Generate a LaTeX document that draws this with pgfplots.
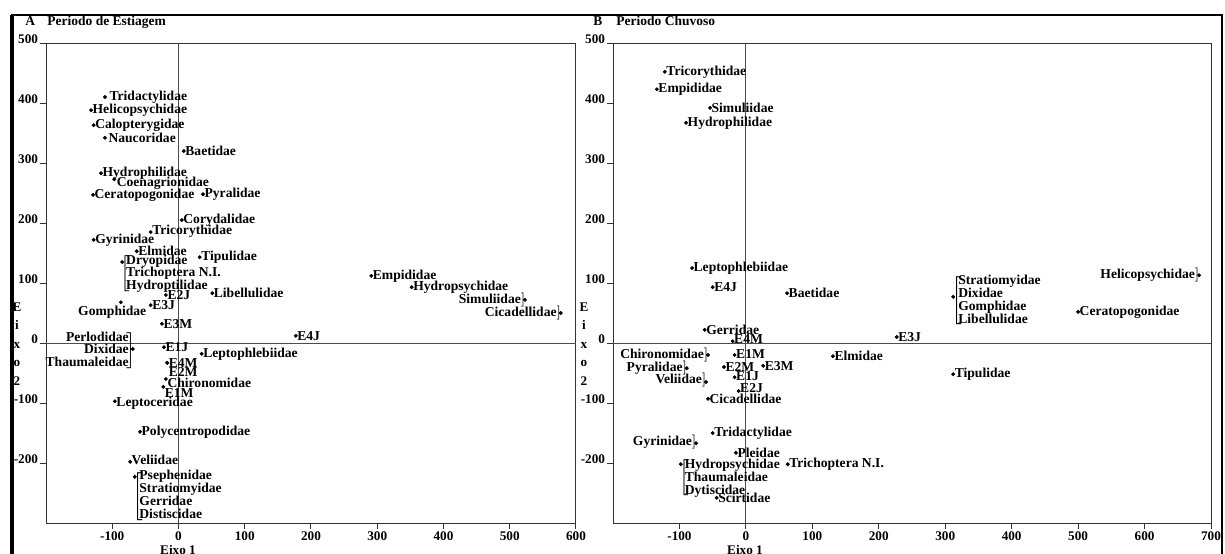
\documentclass[border=0pt]{standalone}
\usepackage{fontspec}
\setmainfont{Liberation Serif}
\usepackage{pgfplots}
\usepackage{pgfplotstable}
\pgfplotsset{compat=1.18}

\newcommand\labfont{\bfseries\fontsize{6.8pt}{5.8pt}\selectfont}
\newcommand\tickfont{\bfseries\fontsize{6.6pt}{7pt}\selectfont}
\protected\def\RB#1{$\left.\mbox{#1}\right]$}
\protected\def\GrpDry{$\left[\kern-2pt\begin{tabular}{@{}l@{}}Dryopidae\\Trichoptera N.I.\\Hydroptilidae\end{tabular}\right.$}
\protected\def\GrpPerl{$\left.\begin{tabular}{@{}r@{}}Perlodidae\\Dixidae\\Thaumaleidae\end{tabular}\kern-1pt\right]$}
\protected\def\GrpPse{$\left[\kern-2pt\begin{tabular}{@{}l@{}}Psephenidae\\Stratiomyidae\\Gerridae\\Distiscidae\end{tabular}\right.$}
\protected\def\GrpHyd{$\left[\kern-2pt\begin{tabular}{@{}l@{}}Hydropsychidae\\Thaumaleidae\\Dytiscidae\end{tabular}\right.$}
\protected\def\GrpStr{$\left[\kern-2pt\begin{tabular}{@{}l@{}}Stratiomyidae\\Dixidae\\Gomphidae\\Libellulidae\end{tabular}\right.$}

\pgfplotsset{
  pca/.style={
    scale only axis, height=240pt, anchor=south west,
    xmin=-200, ymin=-300, ymax=500, clip=false,
    axis line style={black!80, line width=0.5pt},
    tick style={black!80, line width=0.5pt},
    tick align=outside, major tick length=3pt, tick pos=left,
    ytick={-200,-100,...,500},
    yticklabels={-200,-100,0,100,200,300,400,500},
    ticklabel style={font=\tickfont, text=black},
    yticklabel style={anchor=base east, inner sep=0.8pt},
    xticklabel style={anchor=north, inner sep=1pt},
  },
  zl/.style={black!70, line width=0.5pt, no marks},
}

\begin{document}
\begin{tikzpicture}[x=1pt,y=1pt]
% outer frame
\draw[line width=1pt] (6pt,-282pt) -- (6pt,-7.5pt) -- (611pt,-7.5pt) -- (611pt,-282pt);
\draw[line width=1.6pt] (6pt,-282pt) -- (6pt,-7.5pt);

\begin{axis}[pca, at={(23pt,-261.5pt)}, width=265pt, xmax=600,
  xtick={-100,0,...,600}, xticklabels={-100,0,100,200,300,400,500,600}]
\addplot[zl] coordinates {(-200,0) (600,0)};
\addplot[zl] coordinates {(0,-300) (0,500)};
\addplot[only marks, mark=*, mark size=0.75pt, black,
    mark options={fill=black, draw=black},
    point meta=explicit symbolic, nodes near coords,
    visualization depends on={value \thisrow{anc}\as\myanc},
    visualization depends on={\thisrow{dx}\as\mydx},
    visualization depends on={\thisrow{dy}\as\mydy},
    every node near coord/.append style={anchor=\myanc, xshift=\mydx pt,
      yshift=\mydy pt, inner sep=0.6pt, font=\labfont, text=black}]
 table[col sep=comma, x=x, y=y, meta=lab] {
x,y,lab,anc,dx,dy
-111,410,Tridactylidae,west,1.5,0
-132,388,Helicopsychidae,west,0,0
-128,363,Calopterygidae,west,0,0
-111,342,Naucoridae,west,1,0
8,320,Baetidae,west,0,0
-117,283,Hydrophilidae,west,0,0
-97,273,Coenagrionidae,west,0.5,-2
-129,247,Ceratopogonidae,west,0,0
37,248,Pyralidae,west,0,0
5,205,Corydalidae,west,0,0
-42,185,Tricorythidae,west,0,0.5
-128,172,Gyrinidae,west,0,0
-63,153,Elmidae,west,0,0
32,143,Tipulidae,west,0,0
-85,135,\GrpDry,north west,-1.5,4.5
51,83,Libellulidae,west,0,0
-19,80,E2J,west,0,0
-87,68,Gomphidae,east,13.5,-5
-42,63,E3J,west,0,0
-25,32,E3M,west,0,0
-69,-10,\GrpPerl,east,2.5,-1
-22,-7,E1J,west,0,0
35,-18,Leptophlebiidae,west,0,0
-17,-33,E4M,west,0,0
-17,-33,E2M,west,0,-4.5
-19,-60,Chironomidae,west,0,-2
-23,-73,E1M,west,0,-3
-96,-97,Leptoceridae,west,0,-1
-58,-148,Polycentropodidae,west,0,0
-73,-198,Veliidae,west,0,1
-66,-223,\GrpPse,north west,-1.75,4
291,112,Empididae,west,0,0
352,93,Hydropsychidae,west,0,0
523,72,\RB{Simuliidae},east,1,0
577,50,\RB{Cicadellidae},east,1,0
177,12,E4J,west,0,0
};
\end{axis}

\begin{axis}[pca, at={(306.5pt,-261.5pt)}, width=299pt, xmax=700,
  xtick={-100,0,...,700}, xticklabels={-100,0,100,200,300,400,500,600,700}]
\addplot[zl] coordinates {(-200,0) (700,0)};
\addplot[zl] coordinates {(0,-300) (0,500)};
\addplot[only marks, mark=*, mark size=0.75pt, black,
    mark options={fill=black, draw=black},
    point meta=explicit symbolic, nodes near coords,
    visualization depends on={value \thisrow{anc}\as\myanc},
    visualization depends on={\thisrow{dx}\as\mydx},
    visualization depends on={\thisrow{dy}\as\mydy},
    every node near coord/.append style={anchor=\myanc, xshift=\mydx pt,
      yshift=\mydy pt, inner sep=0.6pt, font=\labfont, text=black}]
 table[col sep=comma, x=x, y=y, meta=lab] {
x,y,lab,anc,dx,dy
-122,452,Tricorythidae,west,0,0
-134,423,Empididae,west,0,0
-54,392,Simuliidae,west,0,0
-90,367,Hydrophilidae,west,0,0
-81,125,Leptophlebiidae,west,0,0
-50,93,E4J,west,0,0
62,83,Baetidae,west,0,0
-62,22,Gerridae,west,0,0
-20,3,E4M,west,0,1
-57,-20,\RB{Chironomidae},east,1,0
-17,-20,E1M,west,0,0.5
131,-22,Elmidae,west,0,0
-89,-42,\RB{Pyralidae},east,1,0
-33,-40,E2M,west,0,0
26,-38,E3M,west,0,0
-17,-57,E1J,west,0,0.5
-60,-65,\RB{Veliidae},east,1,1
-11,-80,E2J,west,0,1.5
-57,-93,Cicadellidae,west,0,0
-50,-150,Tridactylidae,west,0,0
-75,-167,\RB{Gyrinidae},east,1,0.5
-15,-183,Pleidae,west,0,0
-98,-202,\GrpHyd,north west,-1.5,3.5
63,-202,Trichoptera N.I.,west,0,0
-44,-258,Scirtidae,west,0,0
227,10,E3J,west,0,0
312,77,\GrpStr,west,-1.5,-2
682,113,\RB{Helicopsychidae},east,1,0
500,52,Ceratopogonidae,west,0,0
312,-52,Tipulidae,west,0,0
};
\end{axis}

% titles
\node[anchor=base west, font=\bfseries\fontsize{6.75pt}{7pt}\selectfont, inner sep=0] at (12.5pt,-12.8pt) {A};
\node[anchor=base west, font=\bfseries\fontsize{6.75pt}{7pt}\selectfont, inner sep=0] at (23.5pt,-12.8pt) {Periodo de Estiagem};
\node[anchor=base west, font=\bfseries\fontsize{6.75pt}{7pt}\selectfont, inner sep=0] at (296.5pt,-12.8pt) {B};
\node[anchor=base west, font=\bfseries\fontsize{6.75pt}{7pt}\selectfont, inner sep=0] at (308pt,-12.8pt) {Periodo Chuvoso};
% axis titles
\node[align=center, font=\bfseries\fontsize{6.6pt}{9.2pt}\selectfont, inner sep=0] at (8.5pt,-172pt) {E\\i\\x\\o\\2};
\node[align=center, font=\bfseries\fontsize{6.6pt}{9.2pt}\selectfont, inner sep=0] at (292pt,-172pt) {E\\i\\x\\o\\2};
\node[anchor=north, font=\bfseries\fontsize{6.6pt}{7pt}\selectfont, inner sep=0] at (89pt,-272.5pt) {Eixo 1};
\node[anchor=north, font=\bfseries\fontsize{6.6pt}{7pt}\selectfont, inner sep=0] at (372.5pt,-272.5pt) {Eixo 1};

\pgfresetboundingbox
\useasboundingbox (0,0) rectangle (612.5pt,-276.5pt);
\end{tikzpicture}
\end{document}
